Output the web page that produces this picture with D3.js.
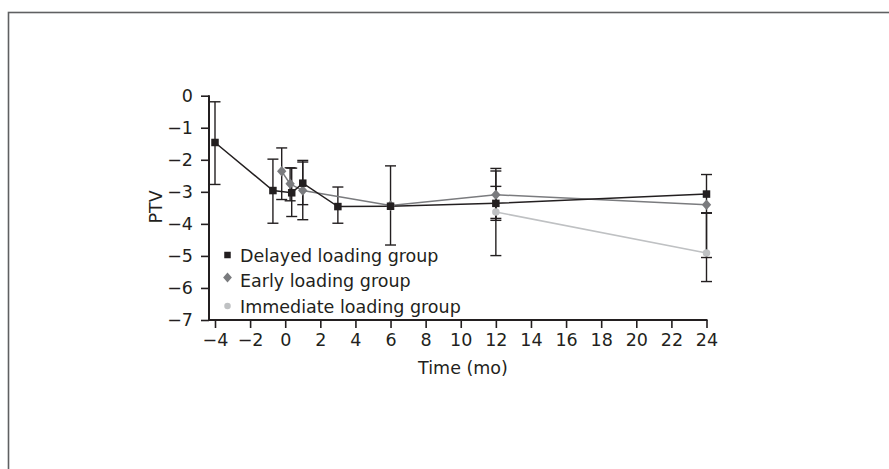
<!DOCTYPE html>
<html><head><meta charset="utf-8">
<script src="https://cdn.jsdelivr.net/npm/d3@7"></script>
<style>body{margin:0;background:#fff}svg{display:block}text{font-family:"DejaVu Sans",sans-serif;fill:#231f20}</style>
</head><body><svg id="c" width="889" height="469"></svg>
<script>
// ---- data ----
const xTicks = [-4,-2,0,2,4,6,8,10,12,14,16,18,20,22,24];
const yTicks = [0,-1,-2,-3,-4,-5,-6,-7];
const seriesNames = ["Delayed loading group","Early loading group","Immediate loading group"];

const delayedX  = [-4, -0.7, 0.37, 1, 3, 6, 12, 24];
const delayedY  = [-1.46, -2.96, -3.03, -2.73, -3.46, -3.45, -3.36, -3.07];
const delayedHi = [-0.19, -1.98, -2.26, -2.02, -2.85, null, -2.83, -2.46];
const delayedLo = [-2.77, -3.98, -3.77, -3.40, -3.98, null, -3.89, -3.66];

const earlyX  = [-0.2, 0.28, 1, 6, 12, 24];
const earlyY  = [-2.36, -2.75, -2.96, -3.43, -3.09, -3.40];
const earlyHi = [-1.63, -2.25, -2.07, -2.19, -2.35, -3.66];
const earlyLo = [-3.24, -3.28, -3.87, -4.66, -3.83, -5.05];

const immX  = [12, 24];
const immY  = [-3.63, -4.91];
const immHi = [-2.27, -3.66];
const immLo = [-4.99, -5.80];

const colors = ["#231f20","#7a7b7e","#bfc1c3"];

// ---- chart ----
const svg = d3.select("#c");
const ink = "#231f20";
const FS = 17.5;

svg.append("rect").attr("x",8.5).attr("y",12.5).attr("width",1000).attr("height",1000)
  .attr("fill","none").attr("stroke","#5f6062").attr("stroke-width",1.6);

const x = d3.scaleLinear().domain([-4,24]).range([215,706.5]);
const y = d3.scaleLinear().domain([-7,0]).range([320,95.7]);
const axisX0 = 209;

const fmt = d => d < 0 ? "\u2212" + Math.abs(d) : String(d);

// y axis
const gy = svg.append("g").attr("transform",`translate(${axisX0},0)`)
  .call(d3.axisLeft(y).tickValues(yTicks).tickSize(8).tickPadding(8).tickFormat(fmt));
gy.select(".domain").remove();
gy.selectAll("line").attr("stroke",ink).attr("stroke-width",1.6);
gy.selectAll("text").attr("font-size",FS).attr("fill",ink).attr("font-family","DejaVu Sans");
svg.append("line").attr("x1",axisX0).attr("x2",axisX0).attr("y1",y(0)-0.5).attr("y2",y(-7)+1)
  .attr("stroke",ink).attr("stroke-width",2);

// x axis
const gx = svg.append("g").attr("transform",`translate(0,${y(-7)})`)
  .call(d3.axisBottom(x).tickValues(xTicks).tickSize(8).tickPadding(6).tickFormat(fmt));
gx.select(".domain").remove();
gx.selectAll("line").attr("stroke",ink).attr("stroke-width",1.6);
gx.selectAll("text").attr("font-size",FS).attr("fill",ink).attr("font-family","DejaVu Sans");
svg.append("line").attr("x1",axisX0-1).attr("x2",x(24)+1).attr("y1",y(-7)).attr("y2",y(-7))
  .attr("stroke",ink).attr("stroke-width",2);

// axis titles
svg.append("text").attr("x",463).attr("y",374).attr("text-anchor","middle")
  .attr("font-size",FS).text("Time (mo)");
svg.append("text").attr("transform","translate(162,207) rotate(-90)").attr("text-anchor","middle")
  .attr("font-size",FS).text("PTV");

const series = [
  {xs:delayedX, ys:delayedY, hi:delayedHi, lo:delayedLo, shape:"square", color:colors[0]},
  {xs:earlyX, ys:earlyY, hi:earlyHi, lo:earlyLo, shape:"diamond", color:colors[1]},
  {xs:immX, ys:immY, hi:immHi, lo:immLo, shape:"circle", color:colors[2]}
];

// error bars (drawn first)
series.forEach(s => {
  s.xs.forEach((xv,i) => {
    if (s.hi[i] == null) return;
    const cx = x(xv);
    const g = svg.append("g").attr("stroke",ink).attr("stroke-width",1.4);
    g.append("line").attr("x1",cx).attr("x2",cx).attr("y1",y(s.hi[i])).attr("y2",y(s.lo[i]));
    [s.hi[i], s.lo[i]].forEach(v => g.append("line").attr("x1",cx-5.5).attr("x2",cx+5.5)
      .attr("y1",y(v)).attr("y2",y(v)));
  });
});

// lines (immediate first, then early, delayed on top)
const line = d3.line().x(d=>x(d[0])).y(d=>y(d[1]));
[2,1,0].forEach(k => {
  const s = series[k];
  svg.append("path").datum(s.xs.map((v,i)=>[v,s.ys[i]])).attr("d",line)
    .attr("fill","none").attr("stroke",s.color).attr("stroke-width",1.5);
});

function marker(g, shape, cx, cy, color, size){
  if (shape==="square") g.append("rect").attr("x",cx-size/2).attr("y",cy-size/2).attr("width",size).attr("height",size).attr("fill",color);
  else if (shape==="diamond") g.append("path").attr("d",`M${cx},${cy-size*0.62}L${cx+size*0.55},${cy}L${cx},${cy+size*0.62}L${cx-size*0.55},${cy}Z`).attr("fill",color);
  else g.append("circle").attr("cx",cx).attr("cy",cy).attr("r",size/2).attr("fill",color);
}
[2,1,0].forEach(k => {
  const s = series[k];
  const g = svg.append("g");
  s.xs.forEach((xv,i) => marker(g, s.shape, x(xv), y(s.ys[i]), s.color, s.shape==="square"?7.5:(s.shape==="diamond"?8.5:7.5)));
});

// legend
const lg = svg.append("g");
const legY = [255, 280.5, 306];
series.forEach((s,i) => {
  marker(lg, s.shape, 227.5, legY[i] - (s.shape==="diamond"?3:0), s.color, s.shape==="diamond"?8:6.5);
  lg.append("text").attr("x",240).attr("y",legY[i]+6.5).attr("font-size",FS).text(seriesNames[i]);
});
</script></body></html>
